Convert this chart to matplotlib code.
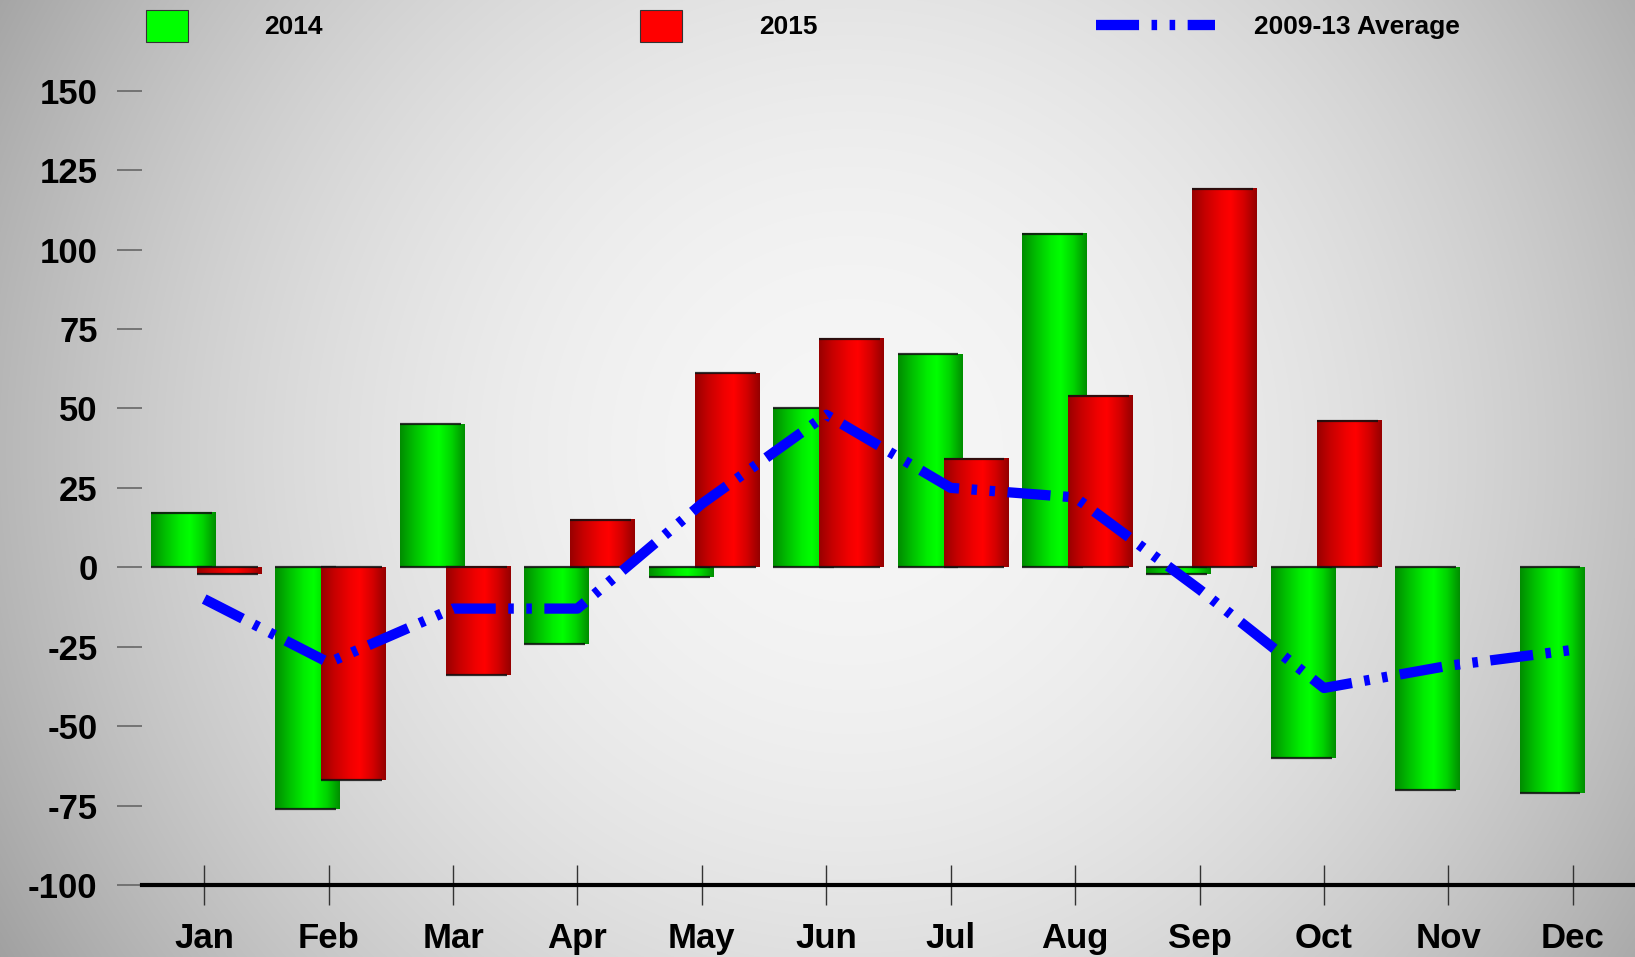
import numpy as np
import matplotlib
matplotlib.use("Agg")
import matplotlib.pyplot as plt
from matplotlib.colors import LinearSegmentedColormap
from matplotlib.patches import Rectangle
from matplotlib.lines import Line2D

# ---------------- data ----------------
months = ["Jan", "Feb", "Mar", "Apr", "May", "Jun", "Jul", "Aug", "Sep", "Oct", "Nov", "Dec"]
y2014 = [17, -76, 45, -24, -3, 50, 67, 105, -2, -60, -70, -71]
y2015 = [-2, -67, -34, 15, 61, 72, 34, 54, 119, 46, 0, 0]
avg_0913 = [-10, -30, -13, -13, 20, 48, 25, 22, -7, -38, -31, -26]
yticks = [-100, -75, -50, -25, 0, 25, 50, 75, 100, 125, 150]
series_labels = ["2014", "2015", "2009-13 Average"]

plt.rcParams['font.family'] = ['Liberation Sans', 'DejaVu Sans']
plt.rcParams['lines.scale_dashes'] = False
plt.rcParams['axes.unicode_minus'] = False

W, H = 1635, 957
fig = plt.figure(figsize=(W / 100, H / 100), dpi=100)

# ---------------- radial background ----------------
bg = fig.add_axes([0, 0, 1, 1])
yy, xx = np.mgrid[0:H, 0:W]
d2 = (xx - 850.0) ** 2 + (yy - 450.0) ** 2
v = np.clip(246 - 8.7e-5 * d2, 0, 255) / 255.0
bg.imshow(np.dstack([v, v, v]), extent=(0, 1, 0, 1), aspect='auto', origin='upper')
bg.axis('off')
bg.set_zorder(-5)

# ---------------- main axes ----------------
ax = fig.add_axes([142 / W, (H - 885) / H, 1 - 142 / W, (885 - 90.7) / H])
ax.set_facecolor('none')

x = np.arange(len(months))
width = 0.515
g_off, r_off = -0.17, 0.20

green_cm = LinearSegmentedColormap.from_list('g', [
    (0.0, '#008c00'), (0.2, '#00bb00'), (0.45, '#00ee00'),
    (0.6, '#00ff00'), (0.8, '#00d400'), (1.0, '#008e00')])
red_cm = LinearSegmentedColormap.from_list('r', [
    (0.0, '#980000'), (0.2, '#c60000'), (0.45, '#f00000'),
    (0.6, '#ff0000'), (0.8, '#d40000'), (1.0, '#940000')])
grad = np.linspace(0, 1, 128).reshape(1, -1)


def shade(bars, cmap, z):
    for p in bars:
        x0, w = p.get_x(), p.get_width()
        y0, h = p.get_y(), p.get_height()
        if h == 0:
            p.set_visible(False)
            continue
        lo, hi = min(y0, y0 + h), max(y0, y0 + h)
        ax.imshow(grad, cmap=cmap, extent=(x0, x0 + w, lo, hi), aspect='auto',
                  interpolation='bilinear', zorder=z + 0.1)
        ax.hlines([lo, hi], x0, x0 + w * 0.95, colors='#101010', lw=1.6,
                  alpha=0.85, zorder=z + 0.2)


b14 = ax.bar(x + g_off, y2014, width, color='#00dd00', zorder=2, label=series_labels[0])
shade(b14, green_cm, 2)
b15 = ax.bar(x + r_off, y2015, width, color='#dd0000', zorder=3, label=series_labels[1])
shade(b15, red_cm, 3)

dash = (0, (31, 9, 4, 9, 4, 9))
ax.plot(x, avg_0913, color='#0000ff', lw=7.4, linestyle=dash,
        dash_capstyle='butt', zorder=6, label=series_labels[2])

ax.set_xlim(-0.5, 11.5)
ax.set_ylim(-100, 150)
ax.set_yticks(yticks)
ax.set_xticks(x, months)

for s in ['left', 'top', 'right']:
    ax.spines[s].set_visible(False)
ax.spines['bottom'].set_linewidth(3)
ax.spines['bottom'].set_color('black')
ax.spines['bottom'].set_zorder(7)

ax.tick_params(axis='x', direction='inout', length=29, width=1, color='#333333',
               pad=12, labelsize=25)
ax.tick_params(axis='y', direction='out', length=18, width=1.2, color='#666666',
               pad=14, labelsize=25)
for lbl in ax.get_xticklabels() + ax.get_yticklabels():
    lbl.set_fontweight('bold')

# ---------------- legend (manual, top) ----------------
def fx(px):
    return px / W


def fy(py):
    return 1 - py / H


fig.add_artist(Rectangle((fx(146), fy(42)), 42 / W, 32 / H, transform=fig.transFigure,
                         facecolor='#00ff00', edgecolor='#333333', lw=0.8))
fig.text(fx(264), fy(27), series_labels[0], va='center', ha='left', fontsize=19,
         fontweight='bold')
fig.add_artist(Rectangle((fx(640), fy(42)), 42 / W, 32 / H, transform=fig.transFigure,
                         facecolor='#ff0000', edgecolor='#333333', lw=0.8))
fig.text(fx(759), fy(27), series_labels[1], va='center', ha='left', fontsize=19,
         fontweight='bold')
fig.add_artist(Line2D([fx(1096), fx(1215)], [fy(25), fy(25)], transform=fig.transFigure,
                      color='#0000ff', lw=7.4, linestyle=dash, dash_capstyle='butt'))
fig.text(fx(1254), fy(27), series_labels[2], va='center', ha='left', fontsize=19,
         fontweight='bold')

fig.savefig('out.png', dpi=100)
